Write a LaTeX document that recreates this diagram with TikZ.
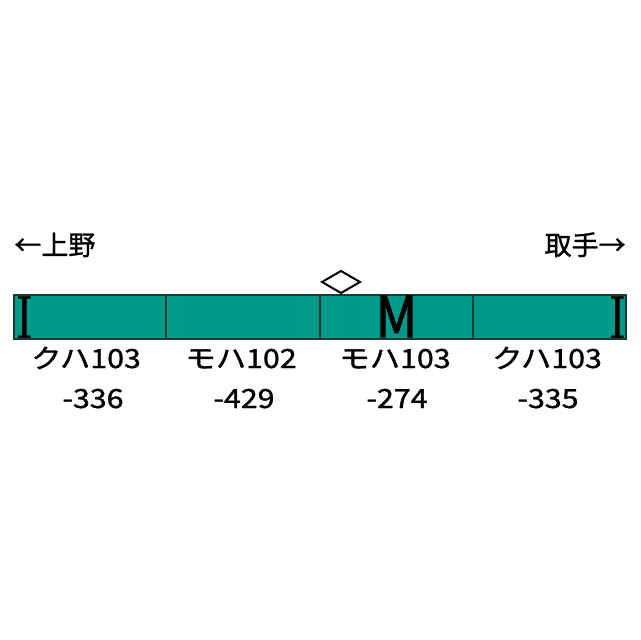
\documentclass[tikz,border=0pt]{standalone}
\usepackage{fontspec}
\usepackage{tikz}
\setmainfont{Noto Sans CJK JP}[FakeBold = 1.1]
\newfontfamily\capfont{Latin Modern Roman}
\newfontfamily\motorfont{Noto Sans CJK JP}[FakeBold = 2]
\definecolor{carteal}{HTML}{009A8B}
\definecolor{carline}{HTML}{1E3A36}

\begin{document}
\begin{tikzpicture}[x = 0.5pt, y = -0.5pt]
    \useasboundingbox (0,0) rectangle (640,640);
    \tikzset{carbox/.style = {draw = carline, line width = 0.8pt, fill = carteal},
      carlabel/.style = {anchor = base, inner sep = 0pt, xscale = 1.15, font = \fontsize{13.2pt}{16pt}\selectfont},
      capmark/.style = {inner sep = 0pt, xscale = 0.58, font = \fontsize{30.5pt}{30pt}\selectfont\capfont\bfseries}}

    \draw[carbox] (14,295) rectangle (626,339);
    \draw[carline, line width = 0.8pt] (166,295) -- (166,339);
    \draw[carline, line width = 0.8pt] (320,295) -- (320,339);
    \draw[carline, line width = 0.8pt] (473,295) -- (473,339);

    % pantograph
    \draw[line width = 1pt, fill = white] (322,282) -- (341,271) -- (360,282) -- (341,293) -- cycle;

    \node[capmark] (capL) at (25,317.5) {I};
    \node[capmark] (capR) at (617.5,317.5) {I};
    \node[inner sep = 0pt, xscale = 0.92, font = \fontsize{28pt}{28pt}\selectfont\motorfont] (motor) at (396.5,316.5) {M};

    \node[anchor = base west, inner sep = 0pt, font = \fontsize{13.5pt}{16pt}\selectfont] (ueno) at (14,255) {←上野};
    \node[anchor = base east, inner sep = 0pt, font = \fontsize{13.5pt}{16pt}\selectfont] (toride) at (626,255) {取手→};

    \node[carlabel] (car1a) at (86,368) {クハ103};
    \node[carlabel] (car1b) at (93,408) {-336};
    \node[carlabel] (car2a) at (241,368) {モハ102};
    \node[carlabel] (car2b) at (244,408) {-429};
    \node[carlabel] (car3a) at (395,368) {モハ103};
    \node[carlabel] (car3b) at (397,408) {-274};
    \node[carlabel] (car4a) at (547,368) {クハ103};
    \node[carlabel] (car4b) at (548,408) {-335};
  \end{tikzpicture}
\end{document}
